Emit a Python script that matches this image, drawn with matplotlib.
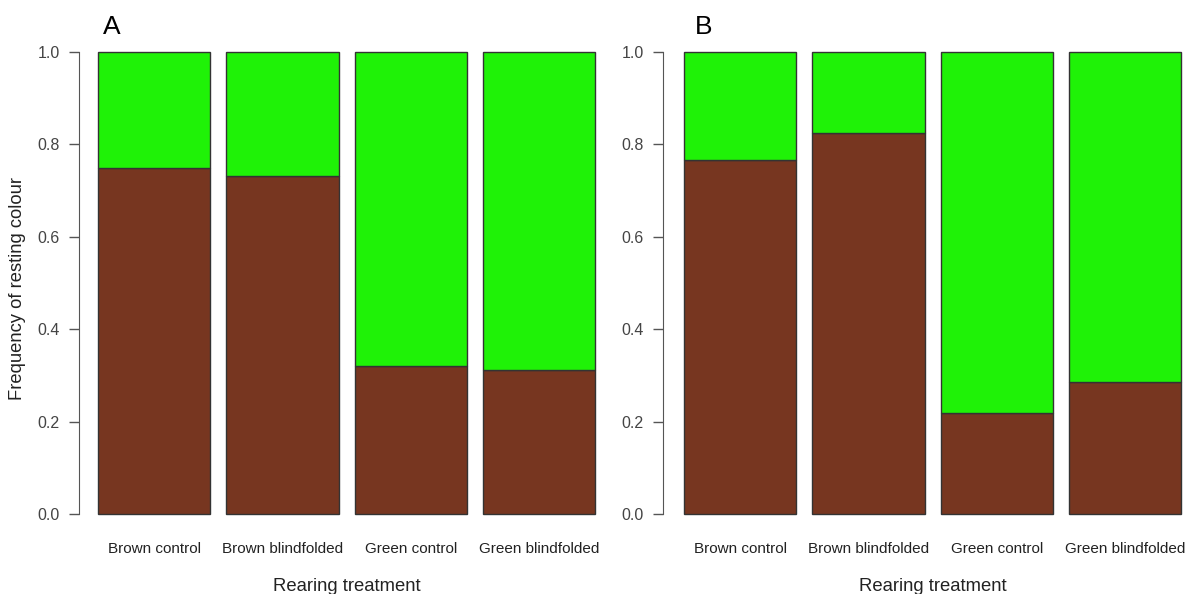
import matplotlib.pyplot as plt
import numpy as np

plt.rcParams['font.family'] = ['Liberation Sans', 'DejaVu Sans']

categories = ['Brown control', 'Brown blindfolded', 'Green control', 'Green blindfolded']
brown_a = [0.749, 0.732, 0.320, 0.312]
brown_b = [0.766, 0.825, 0.219, 0.286]
panels = ['A', 'B']

BROWN = '#773620'
GREEN = '#1ff207'
EDGE = '#333333'
W, H = 1189, 594


def draw_panel(ax, brown, letter, letter_x):
	x = np.arange(len(categories))
	green = 1 - np.array(brown)
	ax.bar(x, brown, width=0.875, color=BROWN, edgecolor=EDGE, linewidth=1, clip_on=False)
	ax.bar(x, green, bottom=brown, width=0.875, color=GREEN, edgecolor=EDGE, linewidth=1, clip_on=False)
	ax.set_ylim(0, 1)
	ax.set_yticks([0, 0.2, 0.4, 0.6, 0.8, 1.0])
	ax.set_yticklabels(['0.0', '0.2', '0.4', '0.6', '0.8', '1.0'])
	ax.set_xticks(x)
	ax.set_xticklabels(categories)
	for s in ['top', 'right', 'bottom']:
		ax.spines[s].set_visible(False)
	ax.spines['left'].set_color('#555555')
	ax.tick_params(axis='y', direction='out', length=7.2, width=1, color='#555555',
				   labelsize=11.5, labelcolor='#444444', pad=6.5)
	ax.tick_params(axis='x', length=0, labelsize=11, labelcolor='#222222', pad=20)
	ax.annotate('Rearing treatment', xy=(1.5, 0), xycoords=ax.get_xaxis_transform(),
				xytext=(0, -64), textcoords='offset pixels', ha='center', va='top',
				fontsize=13.3, color='#222222')
	fig.text(letter_x / W, 1 - 34 / H, letter, fontsize=19, va='baseline', ha='left')


fig = plt.figure(figsize=(W / 100, H / 100), dpi=100)
unit = 128.3
layouts = [(79, 98, 103), (663, 684, 695)]
for (spine_px, bar_px, letter_px), brown, letter in zip(layouts, [brown_a, brown_b], panels):
	right_px = bar_px + 3.875 * unit + 5
	ax = fig.add_axes([spine_px / W, (H - 514) / H, (right_px - spine_px) / W, 462 / H])
	x0 = -0.4375 - (bar_px - spine_px) / unit
	x1 = 3.4375 + 5 / unit
	ax.set_xlim(x0, x1)
	draw_panel(ax, brown, letter, letter_px)

fig.text(18 / W, 1 - 288 / H, 'Frequency of resting colour', rotation=90,
		 ha='center', va='center', fontsize=13.2, color='#222222')

fig.savefig('out.png', dpi=100)
